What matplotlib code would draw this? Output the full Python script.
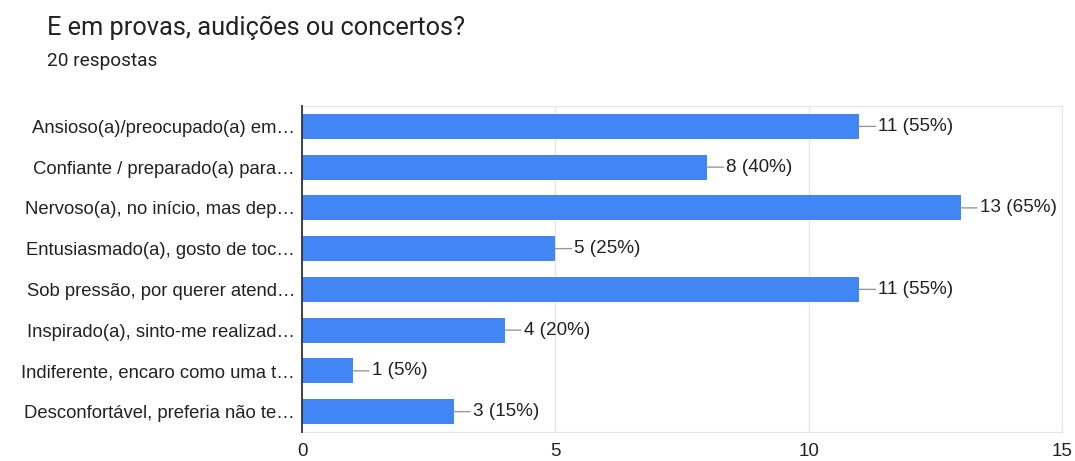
import matplotlib.pyplot as plt

# data
labels = ['Ansioso(a)/preocupado(a) em…',
          'Confiante / preparado(a) para…',
          'Nervoso(a), no início, mas dep…',
          'Entusiasmado(a), gosto de toc…',
          'Sob pressão, por querer atend…',
          'Inspirado(a), sinto-me realizad…',
          'Indiferente, encaro como uma t…',
          'Desconfortável, preferia não te…']
counts = [11, 8, 13, 5, 11, 4, 1, 3]
total = 20
xticks = [0, 5, 10, 15]

blue = '#4285F4'
grid = '#e6e6e6'
txt = '#222222'

fig = plt.figure(figsize=(10.75, 4.61), dpi=100)
ax = fig.add_axes([302/1075, 29/461, 760/1075, 326/461])

y = range(len(labels))
ax.barh(y, counts, height=0.61, color=blue, zorder=2)
ax.set_ylim(len(labels) - 0.5, -0.5)
ax.set_xlim(0, 15)
ax.set_xticks(xticks)
ax.set_xticklabels([str(t) for t in xticks], fontsize=13.5, color=txt,
                   family='Liberation Sans')
ax.set_yticks(list(y))
ax.set_yticklabels(labels, fontsize=13.3, color=txt, family='Liberation Sans')
ax.tick_params(length=0)
ax.tick_params(axis='x', pad=8)
ax.tick_params(axis='y', pad=5)
ax.grid(axis='x', color=grid, lw=1, zorder=0)
for s in ['top', 'bottom', 'right']:
    ax.spines[s].set_color(grid)
ax.spines['left'].set_color('#333333')
ax.spines['left'].set_linewidth(1.3)
ax.spines['left'].set_zorder(3)

for i, c in enumerate(counts):
    ax.annotate('%d (%d%%)' % (c, round(c * 100 / total)), xy=(c, i),
                xytext=(19, 0), textcoords='offset pixels', va='center',
                ha='left', fontsize=13.6, color=txt, family='Liberation Sans',
                arrowprops=dict(arrowstyle='-', color='#999999', lw=1,
                                shrinkA=0, shrinkB=0))

fig.text(47/1075, 1 - 28/461, 'E em provas, audições ou concertos?',
         fontsize=18.3, color=txt, family='Roboto', va='center')
fig.text(47/1075, 1 - 61/461, '20 respostas', fontsize=13.7,
         color=txt, family='Roboto', va='center')

fig.savefig('out.png', dpi=100)
